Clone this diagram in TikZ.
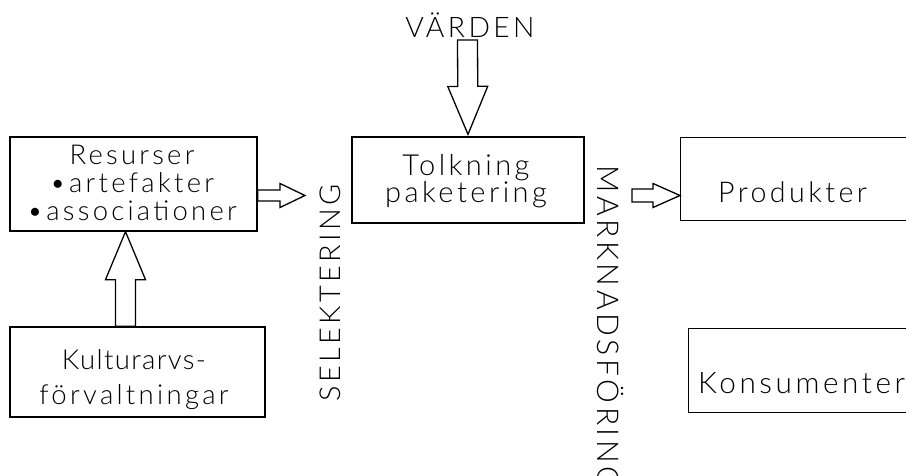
\documentclass[tikz,border=0pt]{standalone}
\usepackage{fontspec}
\setmainfont{Lato Light}[LetterSpace=12]
\usetikzlibrary{calc}
\tikzset{
  box/.style={draw, line width=1.3pt, rectangle, inner sep=0pt},
  lbl/.style={inner sep=0pt, align=center},
  blockarrow/.style args={#1/#2/#3}{draw, line width=1.3pt, line join=miter, to path={
    ($(\tikztostart)!#1!90:(\tikztotarget)$) --
    ($(\tikztotarget)!#3!(\tikztostart)!#1!-90:(\tikztostart)$) --
    ($(\tikztotarget)!#3!(\tikztostart)!#2!-90:(\tikztostart)$) --
    (\tikztotarget) --
    ($(\tikztotarget)!#3!(\tikztostart)!#2!90:(\tikztostart)$) --
    ($(\tikztotarget)!#3!(\tikztostart)!#1!90:(\tikztostart)$) --
    ($(\tikztostart)!#1!-90:(\tikztotarget)$) -- cycle}},
}
\begin{document}
\begin{tikzpicture}[x=1pt,y=-1pt]
\useasboundingbox (0,0) rectangle (906,475);
\clip (0,0) rectangle (906,475);
% boxes
\node[box, minimum width=247pt, minimum height=94pt] (res) at (133.5,184) {};
\node[box, minimum width=255pt, minimum height=90pt] (kult) at (137.5,372) {};
\node[box, minimum width=232pt, minimum height=86pt] (tolk) at (468,180) {};
\node[box, minimum width=260pt, minimum height=83pt, anchor=north west] (prod) at (680,137) {};
\node[box, minimum width=260pt, minimum height=84pt, anchor=north west] (kons) at (688,328) {};
% texts
\node[lbl, font=\fontsize{27.4}{28}\selectfont] (res-t) at (132,182.7) {Resurser\\•artefakter\\•associationer};
\node[lbl, font=\fontsize{27.5}{35}\selectfont] (kult-t) at (134,380) {{\addfontfeature{LetterSpace=5}Kulturarvs-}\\förvaltningar};
\node[lbl, font=\fontsize{29}{27}\selectfont] (tolk-t) at (466,181.5) {Tolkning\\paketering};
\node[lbl, font=\fontsize{28.6}{30}\selectfont, anchor=base west] (prod-t) at (718,202) {Produkter};
\node[lbl, font=\fontsize{29.7}{30}\selectfont, anchor=base west] (kons-t) at (698,393) {Konsumenter};
\node[lbl, font=\fontsize{28.3}{30}\selectfont, anchor=base] (vard) at (470,37) {VÄRDEN};
\node[lbl, font=\fontsize{28.8}{30}\selectfont, rotate=90, anchor=base west] (sel) at (340,402) {SELEKTERING};
\node[lbl, font=\fontsize{30}{30}\selectfont, rotate=-90, anchor=base west] (mark) at (597,165) {MARKNADSFÖRING};
% arrows
\coordinate (vard-a) at (467.5,40);
\draw[blockarrow=10pt/20pt/48pt] (vard-a) to ($(tolk.north)+(0,-2)$);
\draw[blockarrow=10pt/20pt/48pt] ($(kult.north)+(-12,0)$) to ($(res.south)+(-8,0)$);
\coordinate (sel-a) at (305,195.5);
\draw[blockarrow=5.5pt/12pt/25pt] ($(res.east)+(0,11.5)$) to (sel-a);
\coordinate (mark-a) at (632,195.5);
\draw[blockarrow=6.5pt/12pt/27pt] (mark-a) to ($(prod.north west)+(0,58.5)$);
\end{tikzpicture}
\end{document}
